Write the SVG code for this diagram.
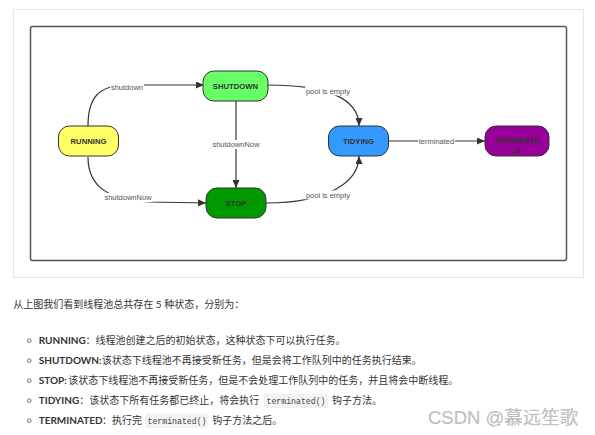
<svg xmlns="http://www.w3.org/2000/svg" width="595" height="435" viewBox="0 0 595 435">
<defs>
<style>
.node{stroke:#333;stroke-width:1}
.nl{font-family:"Liberation Sans",Arial,sans-serif;font-size:7.7px;font-weight:bold;fill:#333;text-anchor:middle}
.edge{fill:none;stroke:#333;stroke-width:1.2}
.el{font-family:"Liberation Sans",Arial,sans-serif;font-size:7.5px;fill:#555;text-anchor:middle}
.bg{fill:#fff}
.tx{font-family:Lato,"Noto Sans CJK SC",sans-serif;font-size:10px;fill:#333}
.b{font-weight:bold}
.code{font-family:"Liberation Mono","DejaVu Sans Mono",monospace;font-size:8.2px;fill:#444}
.cbox{fill:#f3f3f3;stroke:#e4e4e4;stroke-width:0.5}
.bul{fill:none;stroke:#555;stroke-width:0.8}
</style>
<marker id="arr" markerUnits="userSpaceOnUse" markerWidth="8" markerHeight="7" refX="8" refY="3.5" orient="auto">
<path d="M0,0 L8,3.5 L0,7 z" fill="#333"/>
</marker>
</defs>
<rect width="595" height="435" fill="#fff"/>
<rect x="13.5" y="9.5" width="570" height="268" fill="none" stroke="#e6e6e6" stroke-width="1"/>
<rect x="30.5" y="26.5" width="536" height="234" rx="2" fill="none" stroke="#555" stroke-width="1.5"/>

<g id="connectors">
<path class="edge" d="M88,126 C88,98 98,85 128,85 L204,85" marker-end="url(#arr)"/>
<path class="edge" d="M88,157 C88,188 110,200 150,202 L206,203" marker-end="url(#arr)"/>
<path class="edge" d="M236,101 L236,188" marker-end="url(#arr)"/>
<path class="edge" d="M268,85 C330,85 359,100 359,126" marker-end="url(#arr)"/>
<path class="edge" d="M266,203 C328,203 359,182 359,156" marker-end="url(#arr)"/>
<path class="edge" d="M389,141 L485,141" marker-end="url(#arr)"/>
<rect class="bg" x="110" y="83" width="34" height="9"/>
<text class="el" x="127" y="90.2">shutdown</text>
<rect class="bg" x="104" y="193" width="48" height="9"/>
<text class="el" x="128" y="200.2">shutdownNow</text>
<rect class="bg" x="212" y="140" width="48" height="9"/>
<text class="el" x="236" y="147">shutdownNow</text>
<rect class="bg" x="305" y="86.5" width="46" height="9"/>
<text class="el" x="328" y="93.6">pool is empty</text>
<rect class="bg" x="305" y="190.5" width="46" height="9"/>
<text class="el" x="328" y="197.6">pool is empty</text>
<rect class="bg" x="418" y="137" width="37" height="8"/>
<text class="el" x="436.5" y="143.6">terminated</text>
</g>

<g id="running">
<rect class="node" x="58.5" y="126" width="60" height="30" rx="11" fill="#ffff66"/>
<text class="nl" x="88.5" y="143.8">RUNNING</text>
</g>
<g id="shutdown">
<rect class="node" x="203" y="71" width="65" height="30" rx="11" fill="#66ff66"/>
<text class="nl" x="235.5" y="88.6">SHUTDOWN</text>
</g>
<g id="stop">
<rect class="node" x="206" y="188" width="60" height="30" rx="11" fill="#009900"/>
<text class="nl" x="236" y="205.8">STOP</text>
</g>
<g id="tidying">
<rect class="node" x="328.5" y="126" width="60" height="30" rx="11" fill="#3399ff"/>
<text class="nl" x="358.5" y="143.8">TIDYING</text>
</g>
<g id="terminated">
<rect class="node" x="485" y="126" width="64" height="30" rx="11" fill="#990099"/>
<text class="nl" x="517" y="143.4" font-size="8px">TERMINATE</text>
<text class="nl" x="517" y="152.6" font-size="8px">D</text>
</g>

<g id="description">
<text class="tx" x="13.3" y="307.6">从上图我们看到线程池总共存在 5 种状态，分别为：</text>
<circle class="bul" cx="29.3" cy="340.7" r="1.8"/>
<circle class="bul" cx="29.3" cy="360.7" r="1.8"/>
<circle class="bul" cx="29.3" cy="380.7" r="1.8"/>
<circle class="bul" cx="29.3" cy="400.7" r="1.8"/>
<circle class="bul" cx="29.3" cy="420.7" r="1.8"/>
<text class="tx" y="344.3"><tspan class="b" x="38.7">RUNNING</tspan><tspan x="85.5">：线程池创建之后的初始状态，这种状态下可以执行任务。</tspan></text>
<text class="tx" y="364.3"><tspan class="b" x="38.7">SHUTDOWN:</tspan><tspan x="101.7">该状态下线程池不再接受新任务，但是会将工作队列中的任务执行结束。</tspan></text>
<text class="tx" y="384.3"><tspan class="b" x="38.7">STOP:</tspan><tspan x="68.3">该状态下线程池不再接受新任务，但是不会处理工作队列中的任务，并且将会中断线程。</tspan></text>
<rect class="cbox" x="264" y="394" width="63.7" height="13.5" rx="2"/>
<text class="tx" y="404.3"><tspan class="b" x="38.7">TIDYING</tspan><tspan>：该状态下所有任务都已终止，将会执行</tspan></text>
<text class="code" x="266.5" y="403.8">terminated()</text>
<text class="tx" x="332" y="404.3">钩子方法。</text>
<rect class="cbox" x="145.7" y="414" width="61.6" height="13.5" rx="2"/>
<text class="tx" y="424.3"><tspan class="b" x="38.7">TERMINATED</tspan><tspan x="102">：执行完</tspan></text>
<text class="code" x="147.5" y="423.8">terminated()</text>
<text class="tx" x="212.3" y="424.3">钩子方法之后。</text>
</g>
<text x="428" y="423.5" font-family="'Liberation Sans','Noto Sans CJK SC',sans-serif" font-size="18.5" fill="#c4c4c4" stroke="#a0a0a0" stroke-width="0.15">CSDN @慕远笙歌</text>
</svg>
